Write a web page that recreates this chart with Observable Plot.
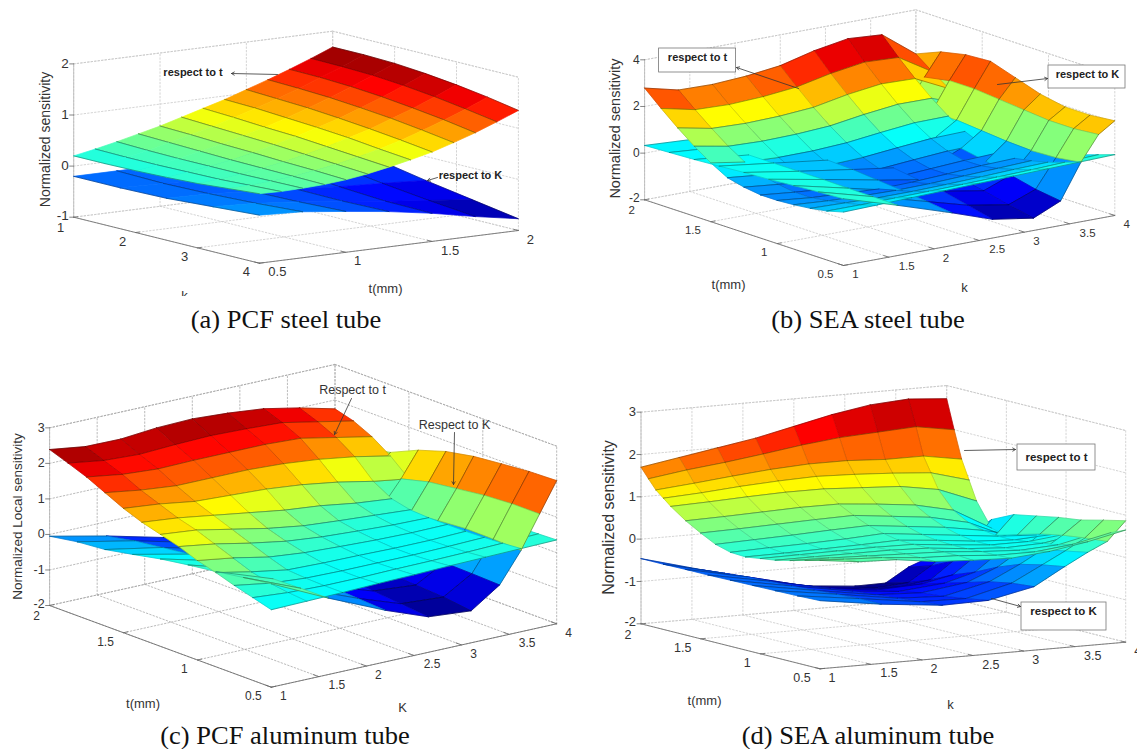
<!DOCTYPE html>
<html><head><meta charset="utf-8">
<script src="https://cdn.jsdelivr.net/npm/d3@7"></script>
<script src="https://cdn.jsdelivr.net/npm/@observablehq/plot@0.6"></script>
<style>
html,body{margin:0;padding:0;background:#fff}
#page{position:relative;width:1137px;height:749px;overflow:hidden;background:#fff}
#page svg{position:absolute;background:transparent}
.cap{position:absolute;font-family:"Liberation Serif",serif;font-size:25px;color:#111;transform:translate(-50%,-50%) scaleX(1.06);white-space:nowrap}
</style></head><body><div id="page"></div>
<script>
// ---- values estimated by eye from the reference, rows = t, columns = k ----
const tA13 = [0.5,0.625,0.75,0.875,1,1.125,1.25,1.375,1.5,1.625,1.75,1.875,2];
const kA7 = [1,1.5,2,2.5,3,3.5,4];
const aUpper = [
[.2,.2,.21,.23,.26,.31,.36],[.28,.27,.27,.28,.29,.32,.35],[.37,.35,.34,.34,.34,.35,.36],
[.47,.45,.43,.41,.40,.39,.38],[.57,.55,.52,.50,.47,.45,.42],[.69,.66,.63,.60,.56,.52,.48],
[.81,.78,.74,.71,.66,.61,.56],[.93,.91,.87,.83,.78,.71,.65],[1.07,1.04,1.01,.96,.90,.83,.75],
[1.21,1.19,1.16,1.11,1.05,.97,.88],[1.36,1.35,1.32,1.27,1.20,1.12,1.02],[1.52,1.51,1.49,1.44,1.37,1.28,1.18],
[1.69,1.69,1.67,1.62,1.55,1.46,1.35]];
const tA7 = [0.5,0.75,1,1.25,1.5,1.75,2];
const kA5 = [1,1.75,2.5,3.25,4];
const aLower = [
[-.2,-.2,-.18,-.12,-.06],[-.2,-.22,-.2,-.16,-.1],[-.2,-.25,-.26,-.24,-.2],[-.2,-.27,-.32,-.33,-.31],
[-.18,-.28,-.38,-.44,-.45],[-.17,-.29,-.42,-.53,-.62],[-.16,-.3,-.47,-.62,-.77]];

const tRows13 = [2,1.875,1.75,1.625,1.5,1.375,1.25,1.125,1,.875,.75,.625,.5];
const kCols9 = [1,1.375,1.75,2.125,2.5,2.875,3.25,3.625,4];
const tRows9 = [2,1.8125,1.625,1.4375,1.25,1.0625,.875,.6875,.5];
const kNodes9 = [1,1.6,2.2,2.65,3.1,3.4,3.625,3.82,4];
const bRespT = [
[2.79,2.44,2.41,2.5,2.68,3.05,3.3,3.2,2.11],
[2.15,1.83,1.78,1.85,2.0,2.31,2.53,2.46,1.58],
[1.55,1.26,1.21,1.25,1.36,1.64,1.83,1.79,1.09],
[1.0,.73,.68,.71,.8,1.02,1.19,1.18,.64],
[.52,.29,.22,.23,.31,.48,.63,.65,.26],
[.12,-.03,-.14,-.14,-.08,.06,.19,.23,-.06],
[-.05,-.2,-.34,-.38,-.34,-.22,-.11,-.07,-.24],
[-.15,-.3,-.42,-.49,-.46,-.37,-.28,-.22,-.31],
[-.15,-.3,-.38,-.46,-.43,-.36,-.27,-.22,-.24],
[-.1,-.2,-.26,-.29,-.27,-.21,-.15,-.09,-.06],
[-.02,-.06,-.1,-.1,-.07,-.02,.04,.08,.13],
[.1,.1,.12,.14,.17,.21,.25,.31,.37],
[.29,.33,.37,.41,.45,.49,.53,.57,.61]];
const bRespK = [
[.33,.2,.05,-.05,-.1,.1,.4,1.4,2.11],
[.38,.2,0,-.12,-.18,.1,.5,1.6,2.55],
[.43,.2,-.05,-.2,-.28,.05,.6,1.8,2.78],
[.5,.2,-.1,-.3,-.4,.05,.6,1.8,2.85],
[.58,.2,-.15,-.4,-.6,-.1,.5,1.7,2.5],
[.64,.2,-.25,-.55,-.8,-.3,.4,1.6,2.15],
[.72,.18,-.35,-.7,-1.0,-.55,.35,1.5,1.95],
[.8,.17,-.47,-.95,-1.25,-.8,.4,1.5,1.95],
[.86,.15,-.6,-1.2,-1.47,-.95,.55,1.6,2.06]];
const cRespT = [
[2.39,2.25,2.24,2.33,2.36,2.3,2.2,2.0,1.75],
[2.2,2.05,2.0,2.05,2.08,2.05,2.0,1.8,1.6],
[2.0,1.85,1.78,1.8,1.8,1.8,1.75,1.55,1.35],
[1.75,1.6,1.5,1.5,1.5,1.45,1.35,1.2,1.0],
[1.5,1.4,1.25,1.2,1.15,1.05,.9,.7,.55],
[1.3,1.2,1.05,.9,.75,.65,.5,.4,.3],
[1.15,1.05,.85,.65,.5,.42,.35,.28,.25],
[1.0,.85,.65,.48,.38,.32,.27,.25,.26],
[.8,.65,.45,.35,.3,.26,.24,.25,.28],
[.65,.45,.28,.25,.24,.22,.22,.25,.3],
[.48,.32,.24,.22,.22,.22,.24,.27,.32],
[.33,.25,.22,.22,.24,.25,.27,.3,.34],
[.18,.2,.22,.25,.27,.3,.32,.34,.36]];
const cRespK = [
[-.05,-.4,-.8,-.95,-.9,-.6,-.1,.4,.8],
[.08,-.25,-.65,-.85,-.85,-.55,-.05,.5,.95],
[.15,-.15,-.55,-.75,-.8,-.5,0,.6,1.1],
[.3,-.05,-.45,-.7,-.8,-.5,.1,.75,1.45],
[.46,.05,-.4,-.7,-.85,-.5,.2,.95,1.7],
[.58,.1,-.4,-.75,-.9,-.5,.27,1.05,1.85],
[.68,.12,-.45,-.85,-.95,-.5,.33,1.15,1.93],
[.8,.14,-.5,-.92,-1.0,-.52,.32,1.2,2.0],
[.91,.15,-.55,-1.0,-1.1,-.55,.29,1.2,2.03]];
const tRows15 = [2,1.9375,1.875,1.8125,1.75,1.625,1.5,1.375,1.25,1.125,1,.875,.75,.625,.5];
const dRespT = [
[1.7,1.85,2.0,2.15,2.35,2.55,2.7,2.76,2.69],
[1.47,1.6,1.7,1.82,1.95,2.05,2.1,2.15,2.0],
[1.25,1.33,1.42,1.5,1.55,1.55,1.5,1.5,1.35],
[1.1,1.15,1.22,1.27,1.3,1.27,1.22,1.15,.9],
[.95,.98,1.02,1.05,1.05,1.0,.95,.8,.45],
[.7,.72,.75,.78,.78,.7,.6,.4,-.1],
[.5,.52,.55,.58,.6,.5,.4,.2,-.2],
[.32,.35,.38,.42,.45,.35,.25,.1,-.1],
[.22,.25,.27,.3,.35,.25,.15,.05,0],
[.2,.21,.23,.25,.28,.2,.1,.05,.1],
[.25,.26,.27,.28,.27,.18,.1,.1,.2],
[.3,.3,.3,.3,.27,.18,.12,.15,.3],
[.38,.36,.33,.3,.27,.2,.15,.2,.4],
[.47,.42,.38,.3,.27,.2,.2,.3,.5],
[.56,.45,.42,.3,.25,.22,.3,.45,.65]];
const dRespK = [
[-.46,-.85,-1.25,-1.45,-1.55,-1.54,-1.21,-1.03,-.74],
[-.46,-.8,-1.2,-1.4,-1.45,-1.4,-1.05,-.7,-.4],
[-.45,-.75,-1.1,-1.3,-1.3,-1.2,-.8,-.4,.1],
[-.45,-.72,-1.02,-1.15,-1.1,-.95,-.55,-.1,.35],
[-.44,-.7,-.95,-1.05,-.95,-.75,-.35,.05,.45],
[-.43,-.67,-.9,-.95,-.8,-.5,-.15,.2,.55],
[-.42,-.63,-.85,-.9,-.65,-.3,0,.3,.62],
[-.41,-.6,-.8,-.82,-.55,-.18,.1,.37,.75],
[-.39,-.6,-.75,-.73,-.5,-.09,.2,.42,.87]];

const tTicks = [0.5,1,1.5,2];
const kTicksA = [1,2,3,4];
const kTicks = [1,1.5,2,2.5,3,3.5,4];
const zTicksA = [-1,0,1,2];
const zTicksB = [-2,0,2,4];
const zTicksC = [-2,-1,0,1,2,3];
const captions = ["(a) PCF steel tube","(b) SEA steel tube","(c) PCF aluminum tube","(d) SEA aluminum tube"];

// ---- jet colormap stops ----
const jetStops = [0,.125,.375,.625,.875,1];
const jetColors = ["#00007f","#0000ff","#00ffff","#ffff00","#ff0000","#7f0000"];

// ---- camera + page layout of each panel ----
const panels = [
 {box:[0,0,570,296], L:[73.2,216.7],F:[258.9,262.7],R:[517.9,230], z0:-1,z1:2,zPx:51.1, flipAxes:true,
  zTicks:zTicksA,kTicks:kTicksA, font:13, grid:"#c9c9c9", colEdge:0,
  surfaces:[{t:tA7,k:kA5,z:aLower},{t:tA13,k:kA7,z:aUpper}],
  yTitle:{x:45,y:139,s:14,text:"Normalized sensitivity"}, tTitle:[385,288], kTitle:[184,295,"k"],
  cap:[285.5,320],
  labels:[{x:192.5,y:72,text:"respect to t",bold:1,s:11},{x:470,y:175,text:"respect to K",bold:1,s:11}],
  arrows:[[277,74,231,73],[437,177,427,180]], boxes:[]},
 {box:[570,0,567,300], L:[644.1,199.3],F:[843,265],R:[1114.3,215], z0:-2,z1:4,zPx:23.33,
  zTicks:zTicksB,kTicks, font:11.5, grid:"#c9c9c9", colEdge:.35,
  surfaces:[{t:tRows9,k:kNodes9,z:bRespK},{t:tRows13,k:kCols9,z:bRespT}],
  yTitle:{x:615,y:128,s:14.5,text:"Normalized sensitivity"}, tTitle:[728,284], kTitle:[964,287,"k"],
  cap:[868,320],
  labels:[{x:697,y:57,text:"respect to t",bold:1,s:11},{x:1087,y:74,text:"respect to K",bold:1,s:11}],
  arrows:[[798,88,736,67],[997,84,1047,78]], boxes:[[658.6,48,735.6,72],[1048,65,1125,88]]},
 {box:[0,345,575,378], L:[49.1,605],F:[270.8,686.7],R:[556.2,623.3], z0:-2,z1:3,zPx:35.53,
  zTicks:zTicksC,kTicks, font:12, grid:"#a8a8a8", colEdge:.35,
  surfaces:[{t:tRows9,k:kNodes9,z:cRespK},{t:tRows13,k:kCols9,z:cRespT}],
  yTitle:{x:17.5,y:516,s:13.5,text:"Normalized Local sensitivity"}, tTitle:[142.5,703], kTitle:[402,707,"K"],
  cap:[285,736],
  labels:[{x:352,y:389,text:"Respect to t",s:12.5},{x:454,y:424,text:"Respect to K",s:12.5}],
  arrows:[[351,398,334,434],[454,432,453,484]], boxes:[]},
 {box:[575,345,562,378], L:[640.5,623.3],F:[819.5,668.3],R:[1125.2,641.7], z0:-2,z1:3,zPx:42.33,
  zTicks:zTicksC,kTicks, font:12.5, grid:"#c9c9c9", colEdge:.3,
  surfaces:[{t:tRows9,k:kNodes9,z:dRespK},{t:tRows15,k:kCols9,z:dRespT}],
  yTitle:{x:608,y:517,s:16,text:"Normalized sensitivity"}, tTitle:[704,700], kTitle:[950,704,"k"],
  cap:[868,736],
  labels:[{x:1056,y:457,text:"respect to t",bold:1,s:11.5},{x:1063,y:611,text:"respect to K",bold:1,s:11.5}],
  arrows:[[964,450,1015,449],[991,598,1020,606]], boxes:[[1017,444,1095,470],[1021,602,1106,630]]}
];

function drawPanel(p){
  const toWV = p.flipAxes ? (t,k)=>[(k-1)/3,(t-.5)/1.5] : (t,k)=>[(2-t)/1.5,(k-1)/3];
  const proj = (w,v,z)=>[
    p.L[0]+(p.F[0]-p.L[0])*w+(p.R[0]-p.F[0])*v,
    p.L[1]+(p.F[1]-p.L[1])*w+(p.R[1]-p.F[1])*v-(z-p.z0)*p.zPx];
  const P3 = (t,k,z)=>{const [w,v]=toWV(t,k);return proj(w,v,z)};
  const all = p.surfaces.flatMap(s=>s.z.flat());
  const zMin = d3.min(all), zMax = d3.max(all);
  const black = zMin-5;
  const colorDomain = [black, zMin-1, ...jetStops.map(f=>zMin+f*(zMax-zMin))];
  const colorRange = ["#000","#000",...jetColors];

  // paint order: at each (t,k) the surface that lies lower goes first; within a layer, far before near
  const depth = (t,k,z)=>{const [w,v]=toWV(t,k);
    const h=(z-p.z0)*p.zPx;
    const baseY=p.L[1]+(p.F[1]-p.L[1])*w+(p.R[1]-p.F[1])*v;
    return .25*h-4*(p.F[1]-baseY);};
  const nearestNode=(s,t,k)=>{
    const i=d3.leastIndex(s.t,(a,b)=>Math.abs(a-t)-Math.abs(b-t));
    const j=d3.leastIndex(s.k,(a,b)=>Math.abs(a-k)-Math.abs(b-k));
    return s.z[i][j];};
  const cells=[];
  p.surfaces.forEach((s,si)=>{
    const other=p.surfaces[1-si];
    for(let i=0;i<s.t.length-1;i++)for(let j=0;j<s.k.length-1;j++){
      const c=[[i,j],[i,j+1],[i+1,j+1],[i+1,j]].map(([a,b])=>({t:s.t[a],k:s.k[b],z:s.z[a][b]}));
      const v=d3.mean(c,d=>d.z);
      const layer=v<nearestNode(other,d3.mean(c,d=>d.t),d3.mean(c,d=>d.k))?0:1;
      cells.push({c,v,layer,d:d3.mean(c,d=>depth(d.t,d.k,d.z))});
    }
  });
  cells.sort((a,b)=>a.layer-b.layer||a.d-b.d);
  const pts=[];let id=0;
  const push=(list,fillV,strokeV,sw,so)=>{id++;list.forEach(d=>{const [x,y]=P3(d.t,d.k,d.z);
    pts.push({id,x,y,fillV,strokeV,sw,so})})};
  cells.forEach(cell=>{
    const c=cell.c;
    push([...c,c[0]],cell.v,cell.v,.7,1);
    push([c[0],c[1]],cell.v,black,.55,.6);
    push([c[3],c[2]],cell.v,black,.55,.6);
    if(p.colEdge){push([c[1],c[2]],cell.v,black,.4,p.colEdge);push([c[0],c[3]],cell.v,black,.4,p.colEdge);}
  });

  // box grid
  const grid=[];let gid=0;
  const seg=(a,b)=>{gid++;grid.push({g:gid,x:a[0],y:a[1]},{g:gid,x:b[0],y:b[1]})};
  const wTicks=p.flipAxes?p.kTicks.map(k=>(k-1)/3):tTicks.map(t=>(2-t)/1.5);
  const vTicks=p.flipAxes?tTicks.map(t=>(t-.5)/1.5):p.kTicks.map(k=>(k-1)/3);
  wTicks.forEach(w=>{seg(proj(w,0,p.z0),proj(w,1,p.z0));seg(proj(w,1,p.z0),proj(w,1,p.z1))});
  vTicks.forEach(v=>{seg(proj(0,v,p.z0),proj(1,v,p.z0));seg(proj(0,v,p.z0),proj(0,v,p.z1))});
  p.zTicks.forEach(z=>{seg(proj(0,0,z),proj(0,1,z));seg(proj(0,1,z),proj(1,1,z))});
  seg(proj(0,0,p.z1),proj(0,1,p.z1));seg(proj(0,1,p.z1),proj(1,1,p.z1));

  // axes
  const axis=[];let aid=0;
  const aseg=(a,b)=>{aid++;axis.push({g:aid,x:a[0],y:a[1]},{g:aid,x:b[0],y:b[1]})};
  aseg(proj(0,0,p.z0),proj(1,0,p.z0));aseg(proj(1,0,p.z0),proj(1,1,p.z0));
  p.zTicks.forEach(z=>{const a=proj(0,0,z);aseg(a,[a[0]-4,a[1]])});
  const wDir=[p.F[0]-p.L[0],p.F[1]-p.L[1]],vDir=[p.R[0]-p.F[0],p.R[1]-p.F[1]];
  wTicks.forEach(w=>{const a=proj(w,0,p.z0);aseg(a,[a[0]+vDir[0]*.015,a[1]+vDir[1]*.015])});
  vTicks.forEach(v=>{const a=proj(1,v,p.z0);aseg(a,[a[0]-wDir[0]*.025,a[1]-wDir[1]*.025])});
  const vertAxis=[];{const a=proj(0,0,p.z0),b=proj(0,0,p.z1);vertAxis.push({x:a[0],y:a[1]},{x:b[0],y:b[1]})}

  // tick labels
  const fmt=d=>String(d);
  const zLab=p.zTicks.map(z=>{const a=proj(0,0,z);return {x:a[0]-5,y:a[1]-(z===p.z0?2:0),text:fmt(z)}});
  const wVals=p.flipAxes?p.kTicks:tTicks, vVals=p.flipAxes?tTicks:p.kTicks;
  const wLab=wVals.map((d,i)=>{const a=proj(wTicks[i],0,p.z0),s=fmt(d);return {x:a[0]-(s.length>1?18:13),y:a[1]+(wTicks[i]===0?11:9),text:s}});
  const vLab=vVals.map((d,i)=>{const a=proj(1,vTicks[i],p.z0),s=fmt(d);return {x:a[0]+(s.length>1?18:12),y:a[1]+9,text:s}});
  const tickLabels=[...wLab,...vLab];

  const [ox,oy,W,H]=p.box;
  const sans='"Liberation Sans",Arial,sans-serif';
  const plain=p.labels.filter(d=>!d.bold), bold=p.labels.filter(d=>d.bold);
  const boxData=p.boxes.map(b=>({x1:b[0],y1:b[1],x2:b[2],y2:b[3]}));
  const arrowData=p.arrows.map(a=>({x1:a[0],y1:a[1],x2:a[2],y2:a[3]}));
  const svg=Plot.plot({
    width:W,height:H,margin:0,
    x:{domain:[ox,ox+W],range:[0,W],axis:null},
    y:{domain:[oy,oy+H],range:[0,H],axis:null},
    color:{type:"linear",domain:colorDomain,range:colorRange,clamp:true},
    style:{background:"transparent",fontFamily:sans,overflow:"hidden"},
    marks:[
      Plot.line(grid,{x:"x",y:"y",z:"g",stroke:p.grid,strokeWidth:.8,strokeDasharray:"1.5,2"}),
      Plot.line(vertAxis,{x:"x",y:"y",stroke:"#b5b5b5",strokeWidth:.8}),
      Plot.line(axis,{x:"x",y:"y",z:"g",stroke:"#666",strokeWidth:.8}),
      Plot.line(pts,{x:"x",y:"y",z:"id",fill:"fillV",stroke:"strokeV",strokeWidth:"sw",strokeOpacity:"so",strokeLinejoin:"round"}),
      Plot.text(zLab,{x:"x",y:"y",text:"text",textAnchor:"end",fontSize:p.font+.5,fill:"#333"}),
      Plot.text(tickLabels,{x:"x",y:"y",text:"text",fontSize:p.font,fill:"#333"}),
      Plot.text([p.yTitle],{x:"x",y:"y",text:"text",rotate:-90,fontSize:p.yTitle.s,fill:"#333"}),
      Plot.text([{x:p.tTitle[0],y:p.tTitle[1],text:"t(mm)"},{x:p.kTitle[0],y:p.kTitle[1],text:p.kTitle[2]}],{x:"x",y:"y",text:"text",fontSize:13,fill:"#333"}),
      Plot.rect(boxData,{x1:"x1",x2:"x2",y1:"y1",y2:"y2",fill:"#fff",stroke:"#777",strokeWidth:.8}),
      Plot.arrow(arrowData,{x1:"x1",y1:"y1",x2:"x2",y2:"y2",stroke:"#333",strokeWidth:.8,headLength:6,bend:0}),
      Plot.text(bold,{x:"x",y:"y",text:"text",fontWeight:"bold",fontSize:bold[0]?bold[0].s:11,fill:"#222"}),
      Plot.text(plain,{x:"x",y:"y",text:"text",fontSize:plain[0]?plain[0].s:12,fill:"#333"})
    ]
  });
  svg.style.left=ox+"px";svg.style.top=oy+"px";
  return svg;
}
const page=document.getElementById("page");
panels.forEach((p,i)=>{
  page.appendChild(drawPanel(p));
  const c=document.createElement("div");c.className="cap";c.textContent=captions[i];
  c.style.left=p.cap[0]+"px";c.style.top=p.cap[1]+"px";page.appendChild(c);
});
</script></body></html>
